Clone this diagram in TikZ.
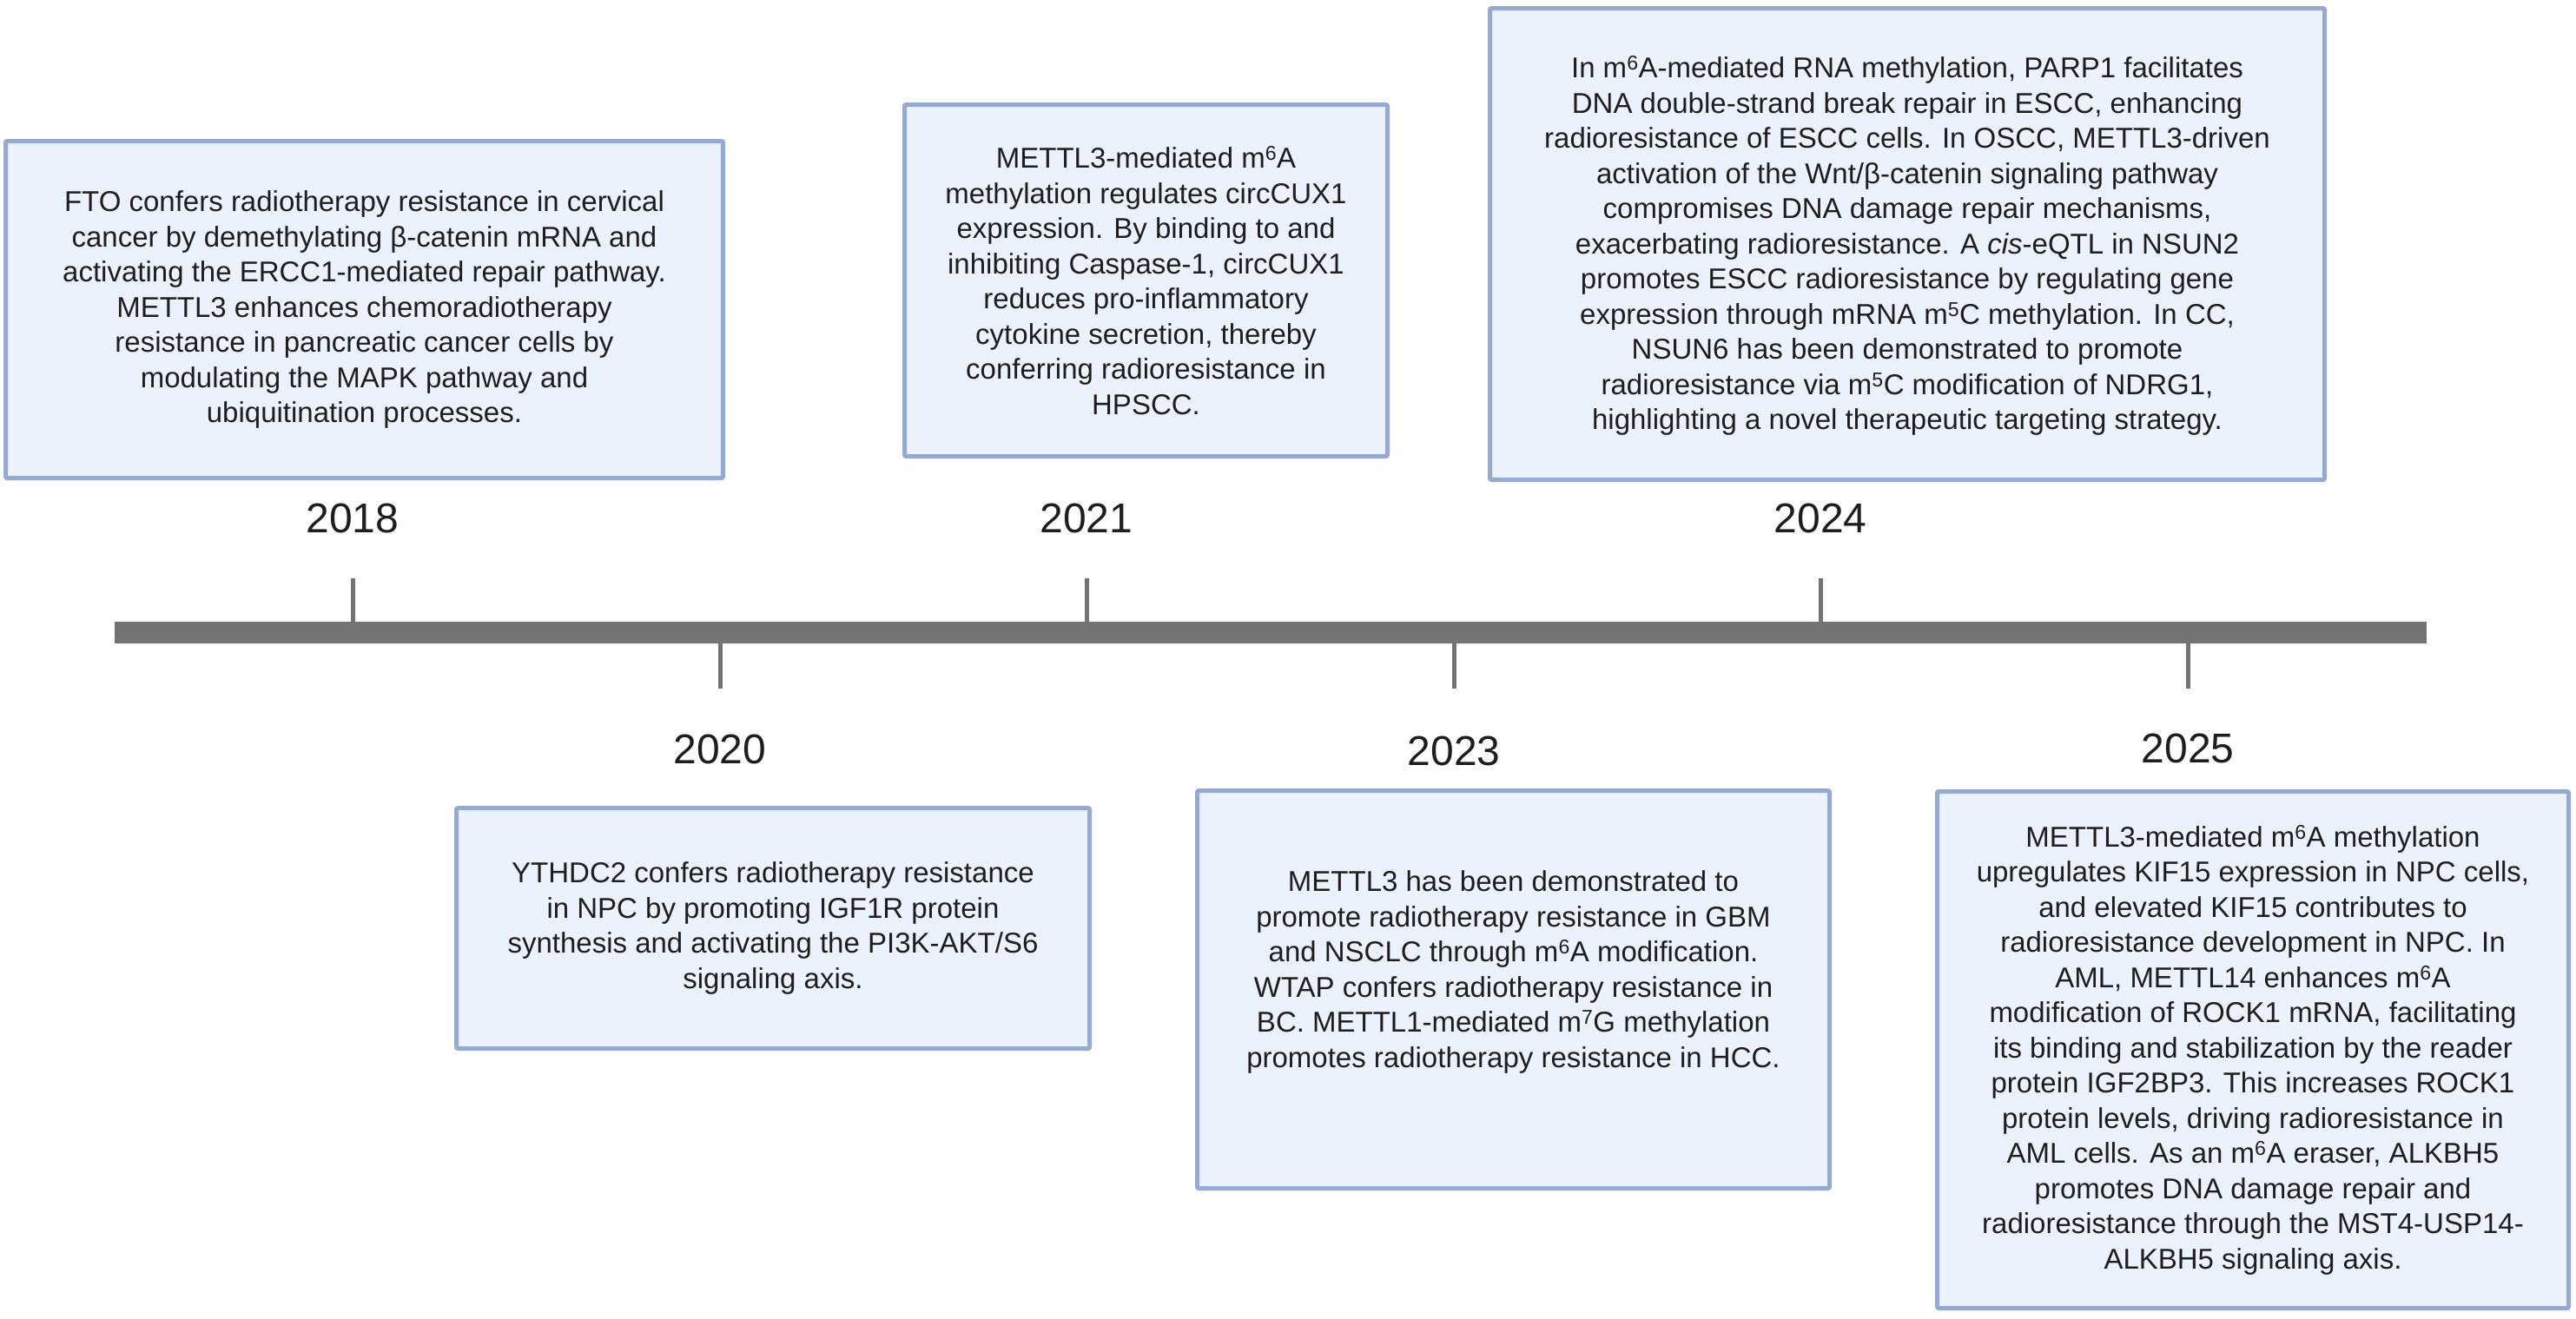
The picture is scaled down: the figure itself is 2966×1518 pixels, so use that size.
\documentclass[tikz,border=0pt]{standalone}
\usepackage{fontspec}
\setmainfont{Liberation Sans}
\usepackage{tikz}
\definecolor{barGray}{RGB}{115,115,115}
\definecolor{boxLine}{RGB}{148,170,212}
\definecolor{boxFill}{RGB}{236,242,251}
\definecolor{textDark}{RGB}{30,30,30}

\begin{document}
\begin{tikzpicture}[x=1pt, y=-1pt]
	\tikzstyle{eventbox}=[draw=boxLine, fill=boxFill, line width=5pt, rounded corners=2pt, inner sep=0pt]
	\tikzstyle{eventtext}=[align=center, inner sep=0pt, text=textDark, font=\fontsize{33}{40.5}\selectfont]
	\tikzstyle{year}=[inner sep=0pt, text=textDark, font=\fontsize{48}{56}\selectfont]
	\tikzstyle{tick}=[draw=barGray, line width=5pt]
	\useasboundingbox (0,0) rectangle (2966,1518);

	% timeline
	\coordinate (barstart) at (132,728.5);
	\coordinate (barend) at (2794,728.5);
	\draw[barGray, line width=25pt] (barstart) -- (barend);
	\foreach \yr/\x/\ty/\ly in {2018/406/666/597, 2021/1251/666/597, 2024/2096/666/597, 2020/829/793/863, 2023/1674/793/865, 2025/2519/793/862} {
		\coordinate (t\yr) at (\x,\ty);
		\draw[tick] (t\yr) -- (t\yr |- barstart);
		\node[year] (y\yr) at (\x,\ly) {\yr};
	}

	% upper boxes
	\node[eventbox, minimum width=826pt, minimum height=388pt] (box2018) at (419.5,356.5) {};
	\node[eventtext] (txt2018) at (box2018) {FTO confers radiotherapy resistance in cervical\\cancer by demethylating β-catenin mRNA and\\activating the ERCC1-mediated repair pathway.\\METTL3 enhances chemoradiotherapy\\resistance in pancreatic cancer cells by\\modulating the MAPK pathway and\\ubiquitination processes.};
	\node[eventbox, minimum width=556pt, minimum height=405pt] (box2021) at (1319.5,323) {};
	\node[eventtext] (txt2021) at (box2021) {METTL3-mediated m\textsuperscript{6}A\\methylation regulates circCUX1\\expression. By binding to and\\inhibiting Caspase-1, circCUX1\\reduces pro-inflammatory\\cytokine secretion, thereby\\conferring radioresistance in\\HPSCC.};
	\node[eventbox, minimum width=961pt, minimum height=543pt] (box2024) at (2196,281) {};
	\node[eventtext, yshift=-2pt] (txt2024) at (box2024) {In m\textsuperscript{6}A-mediated RNA methylation, PARP1 facilitates\\DNA double-strand break repair in ESCC, enhancing\\radioresistance of ESCC cells. In OSCC, METTL3-driven\\activation of the Wnt/β-catenin signaling pathway\\compromises DNA damage repair mechanisms,\\exacerbating radioresistance. A \textit{cis}-eQTL in NSUN2\\promotes ESCC radioresistance by regulating gene\\expression through mRNA m\textsuperscript{5}C methylation. In CC,\\NSUN6 has been demonstrated to promote\\radioresistance via m\textsuperscript{5}C modification of NDRG1,\\highlighting a novel therapeutic targeting strategy.};

	% lower boxes
	\node[eventbox, minimum width=729pt, minimum height=277pt] (box2020) at (890,1069) {};
	\node[eventtext] (txt2020) at (box2020) {YTHDC2 confers radiotherapy resistance\\in NPC by promoting IGF1R protein\\synthesis and activating the PI3K-AKT/S6\\signaling axis.};
	\node[eventbox, minimum width=728pt, minimum height=458pt] (box2023) at (1742.5,1139.5) {};
	\node[eventtext, yshift=20pt] (txt2023) at (box2023) {METTL3 has been demonstrated to\\promote radiotherapy resistance in GBM\\and NSCLC through m\textsuperscript{6}A modification.\\WTAP confers radiotherapy resistance in\\BC. METTL1-mediated m\textsuperscript{7}G methylation\\promotes radiotherapy resistance in HCC.};
	\node[eventbox, minimum width=727pt, minimum height=595pt] (box2025) at (2594,1209) {};
	\node[eventtext] (txt2025) at (box2025) {METTL3-mediated m\textsuperscript{6}A methylation\\upregulates KIF15 expression in NPC cells,\\and elevated KIF15 contributes to\\radioresistance development in NPC. In\\AML, METTL14 enhances m\textsuperscript{6}A\\modification of ROCK1 mRNA, facilitating\\its binding and stabilization by the reader\\protein IGF2BP3. This increases ROCK1\\protein levels, driving radioresistance in\\AML cells. As an m\textsuperscript{6}A eraser, ALKBH5\\promotes DNA damage repair and\\radioresistance through the MST4-USP14-\\ALKBH5 signaling axis.};
\end{tikzpicture}
\end{document}
